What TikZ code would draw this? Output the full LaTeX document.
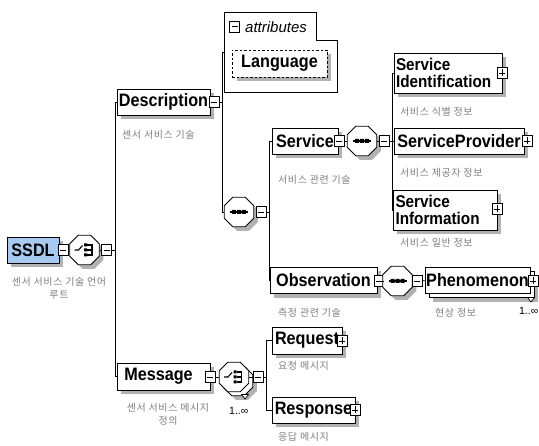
\documentclass[tikz,border=0pt]{standalone}
\usepackage{fontspec}
\usetikzlibrary{shapes.geometric,calc}
\newfontfamily\boxfont[FakeStretch=0.9]{Liberation Sans}
\newfontfamily\attrfont{Liberation Sans}
\newfontfamily\korfont[LetterSpace=6]{Noto Sans CJK KR}
\definecolor{ssdlblue}{RGB}{166,202,240}
\definecolor{shadowgray}{RGB}{178,178,178}
\pgfdeclarelayer{paper}
\pgfdeclarelayer{shadowlayer}
\pgfsetlayers{paper,shadowlayer,main}
\tikzset{
 conn/.style={line width=0.8pt},
 elem/.style={draw, fill=white, line width=0.9pt, inner sep=0pt, align=left, font=\boxfont\bfseries\fontsize{18}{15}\selectfont},
 twoline/.style={font=\boxfont\bfseries\fontsize{17}{16.5}\selectfont},
 pmbox/.style={draw, fill=white, line width=0.7pt, minimum width=10pt, minimum height=11pt, inner sep=0pt},
 minusbox/.style={pmbox, path picture={\draw[line width=0.8pt] ([xshift=2pt]path picture bounding box.west) -- ([xshift=-2pt]path picture bounding box.east);}},
 plusbox/.style={pmbox, path picture={\draw[line width=0.8pt] ([xshift=2pt]path picture bounding box.west) -- ([xshift=-2pt]path picture bounding box.east); \draw[line width=0.8pt] ([yshift=2pt]path picture bounding box.south) -- ([yshift=-2pt]path picture bounding box.north);}},
 oct/.style={regular polygon, regular polygon sides=8, minimum size=32pt, draw, fill=white, line width=0.9pt, inner sep=0pt},
 octshadow/.style={regular polygon, regular polygon sides=8, minimum size=32pt, fill=shadowgray, draw=none, inner sep=0pt},
 lab/.style={font=\korfont\fontsize{10}{13}\selectfont, text=black!50, inner sep=0pt},
 mult/.style={font=\attrfont\fontsize{10.5}{12}\selectfont, inner sep=0pt},
 icon/.style={line width=1.1pt},
}
\newcommand{\boxshadow}[1]{%
 \begin{pgfonlayer}{shadowlayer}
 \fill[shadowgray] ($(#1.south west)+(4,4)$) rectangle ($(#1.north east)+(4,4)$);
 \end{pgfonlayer}}
\newcommand{\octshadowat}[1]{%
 \begin{pgfonlayer}{shadowlayer}
 \node[octshadow] at ($(#1.center)+(4,4)$) {};
 \end{pgfonlayer}}
\newcommand{\seqicon}[1]{%
 \draw[icon,shift={(#1.center)}] (-9,0) -- (9,0);
 \fill[shift={(#1.center)}] (-7,-2) rectangle (-3,2) (-2,-2) rectangle (2,2) (3,-2) rectangle (7,2);}
\newcommand{\choiceicon}[1]{%
 \draw[icon,shift={(#1.center)}] (-10,0) -- (-6,0) -- (-2,-4.5);
 \fill[shift={(#1.center)}] (-0.5,-6.5) rectangle (2.5,-3.5) (-0.5,-1.5) rectangle (2.5,1.5) (-0.5,3.5) rectangle (2.5,6.5);
 \draw[icon,shift={(#1.center)}] (2.5,-5) -- (7.5,-5) -- (7.5,5) -- (2.5,5) (2.5,0) -- (7.5,0);}
\begin{document}
\begin{tikzpicture}[x=1pt,y=-1pt]
\begin{pgfonlayer}{paper}
\fill[white] (0,0) rectangle (539,446);
\end{pgfonlayer}
\useasboundingbox (0,0) rectangle (539,446);

% root
\node[elem, fill=ssdlblue, minimum width=52pt, minimum height=26pt, align=center] (ssdl) at (33,250) {SSDL};
\boxshadow{ssdl}
\node[minusbox] (ssdlM) at (63,250) {};
\node[oct] (ssdlC) at (84.5,250) {};
\octshadowat{ssdlC}
\choiceicon{ssdlC}
\node[minusbox] (ssdlM2) at (106.5,250) {};
\coordinate (busA) at (115,250);
\draw[conn] (ssdlM.east) -- (ssdlC.west);
\draw[conn] (ssdlC.east) -- (ssdlM2.west);
\draw[conn] (ssdlM2.east) -- (busA);
\node[lab, align=center, anchor=north] (ssdlL) at (59,277) {센서 서비스 기술 언어\\루트};

% Description
\node[elem, minimum width=93pt, minimum height=26pt] (desc) at (163.5,102) {Description};
\boxshadow{desc}
\node[minusbox] (descM) at (214,102) {};
\node[lab, anchor=west] (descL) at (122,135) {센서 서비스 기술};
\draw[conn] (desc.west) -| (busA);

% attributes
\draw[line width=0.9pt, fill=white] (224,12) -- (316,12) -- (316,40) -- (337,40) -- (337,92) -- (224,92) -- cycle;
\coordinate (attrL) at (224,52);
\node[minusbox] (attrM) at (234.5,26.5) {};
\node[anchor=west, font=\attrfont\itshape\fontsize{15}{15}\selectfont, inner sep=0pt] (attrT) at (245,27) {attributes};
\fill[shadowgray] (236.5,54) rectangle (331,81);
\node[elem, dash pattern=on 2.5pt off 2pt, minimum width=95pt, minimum height=27pt, align=center] (lang) at (279.5,63.5) {Language};

\coordinate (busB) at (222,102);
\draw[conn] (descM.east) -- (busB);
\draw[conn] (attrL) -| (busB);

% description sequence
\node[oct] (dseq) at (239,212) {};
\octshadowat{dseq}
\seqicon{dseq}
\node[minusbox] (dseqM) at (261,212) {};
\draw[conn] (dseq.west) -| (busB);
\coordinate (busC) at (269,212);
\draw[conn] (dseqM.east) -- (busC);

% Service
\node[elem, minimum width=66pt, minimum height=26pt] (svc) at (305,141) {Service};
\boxshadow{svc}
\node[minusbox] (svcM) at (339,141) {};
\node[oct] (sseq) at (362,141) {};
\octshadowat{sseq}
\seqicon{sseq}
\node[minusbox] (sseqM) at (384,141) {};
\draw[conn] (svcM.east) -- (sseq.west);
\draw[conn] (sseq.east) -- (sseqM.west);
\node[lab, anchor=west] (svcL) at (278,180) {서비스 관련 기술};
\draw[conn] (svc.west) -| (busC);
\coordinate (busD) at (392,141);
\draw[conn] (sseqM.east) -- (busD);

\node[elem, twoline, minimum width=108pt, minimum height=40pt, text width=104pt] (sid) at (448,73) {Service\\Identification};
\boxshadow{sid}
\node[plusbox] (sidP) at (502,73) {};
\node[lab, anchor=west] (sidL) at (400,112) {서비스 식별 정보};
\draw[conn] (sid.west) -| (busD);

\node[elem, minimum width=130pt, minimum height=26pt] (sprov) at (459,141) {ServiceProvider};
\boxshadow{sprov}
\node[plusbox] (sprovP) at (527,141) {};
\node[lab, anchor=west] (sprovL) at (400,173) {서비스 제공자 정보};
\draw[conn] (sprov.west) -- (busD);

\node[elem, twoline, minimum width=104pt, minimum height=40pt, text width=99pt] (sinfo) at (445,210) {Service\\Information};
\boxshadow{sinfo}
\node[plusbox] (sinfoP) at (497,209) {};
\node[lab, anchor=west] (sinfoL) at (400,243) {서비스 일반 정보};
\draw[conn] (sinfo.west) -| (busD);

% Observation
\node[elem, minimum width=107pt, minimum height=26pt] (obs) at (323.5,280.5) {Observation};
\boxshadow{obs}
\node[minusbox] (obsM) at (379,281) {};
\node[oct] (oseq) at (397.5,281) {};
\octshadowat{oseq}
\seqicon{oseq}
\node[minusbox] (oseqM) at (417,281) {};
\draw[conn] (obsM.east) -- (oseq.west);
\draw[conn] (oseq.east) -- (oseqM.west);
\draw[conn] (obs.west) -| (busC);
\node[lab, anchor=west] (obsL) at (278,313) {측정 관련 기술};

\node[elem, minimum width=105pt, minimum height=26pt] (phenB) at (481.5,284.5) {};
\boxshadow{phenB}
\node[elem, minimum width=105pt, minimum height=26pt, align=center] (phen) at (477.5,280.5) {Phenomenon};
\node[plusbox] (phenP) at (533,281) {};
\draw[conn] (oseqM.east) -- (phen.west);
\draw[line width=0.7pt, fill=white] (527.5,297.5) -- (534.5,297.5) -- (531,302) -- cycle;
\node[lab, anchor=west] (phenL) at (435,313) {현상 정보};
\node[mult, anchor=east] (phenMult) at (538.5,311) {1..∞};

% Message
\node[elem, minimum width=93pt, minimum height=27pt, align=center] (msg) at (163.5,376.5) {Message\hspace*{10pt}};
\boxshadow{msg}
\node[minusbox] (msgM) at (210,377) {};
\node[oct] (mchB) at (238,381) {};
\octshadowat{mchB}
\node[oct] (mch) at (234,377) {};
\choiceicon{mch}
\draw[line width=0.7pt, fill=white] (241.5,394.5) -- (248.5,394.5) -- (245,399) -- cycle;
\node[minusbox] (mchM) at (258,377) {};
\draw[conn] (msgM.east) -- (mch.west);
\draw[conn] (mch.east) -- (mchM.west);
\draw[conn] (msg.west) -| (busA);
\node[lab, align=center, anchor=north] (msgL) at (168,403) {센서 서비스 메시지\\정의};
\node[mult, anchor=west] (msgMult) at (229,411) {1..∞};
\coordinate (busE) at (266,377);
\draw[conn] (mchM.east) -- (busE);

\node[elem, minimum width=70pt, minimum height=27pt] (req) at (307,340.5) {Request};
\boxshadow{req}
\node[plusbox] (reqP) at (342,341) {};
\node[lab, anchor=west] (reqL) at (278,366) {요청 메시지};
\draw[conn] (req.west) -| (busE);

\node[elem, minimum width=83pt, minimum height=26pt] (resp) at (313.5,410) {Response};
\boxshadow{resp}
\node[plusbox] (respP) at (355,410) {};
\node[lab, anchor=west] (respL) at (278,437) {응답 메시지};
\draw[conn] (resp.west) -| (busE);
\end{tikzpicture}
\end{document}
